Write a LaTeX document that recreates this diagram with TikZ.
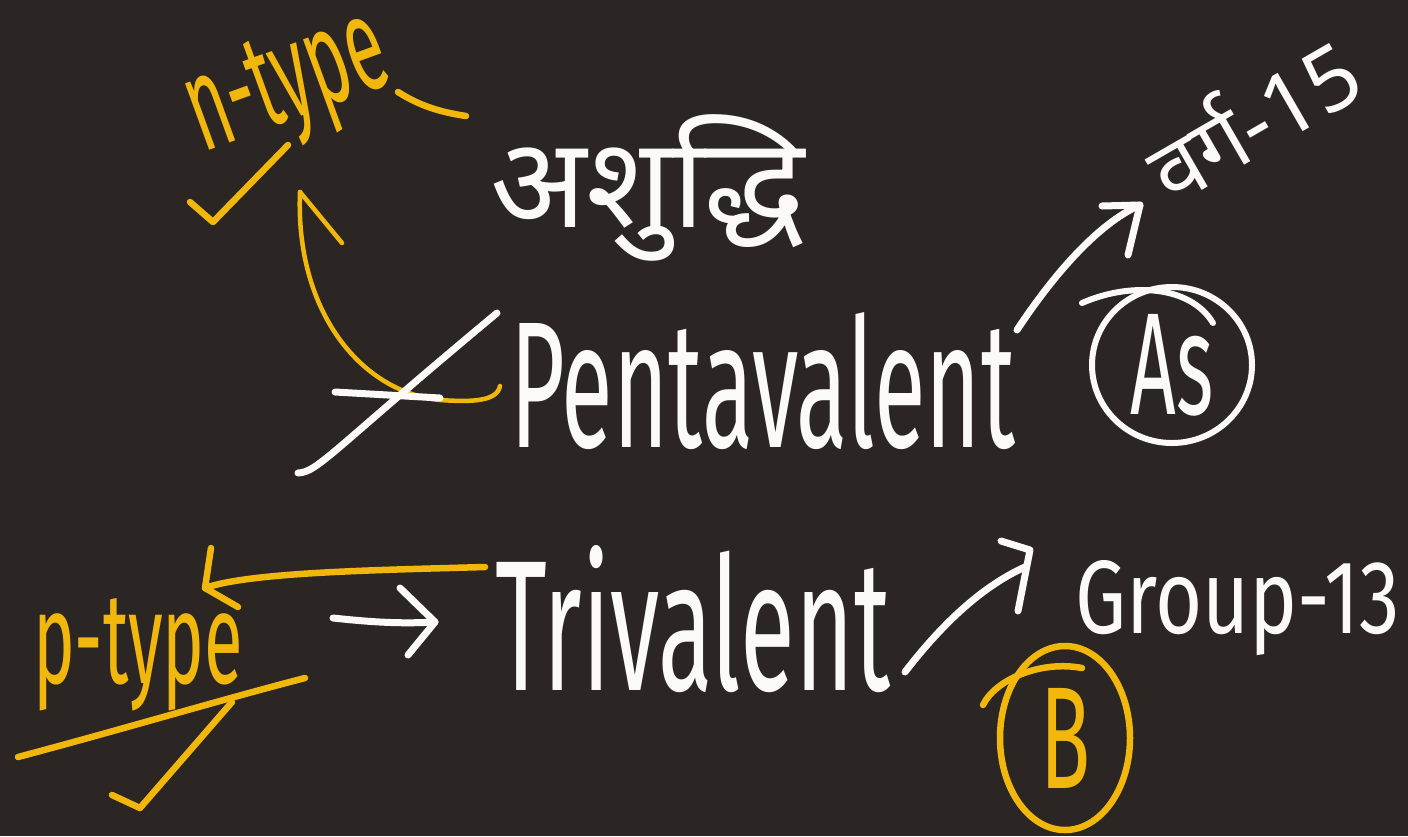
\documentclass[tikz,border=0pt]{standalone}
\usepackage{fontspec}
\setmainfont{Fira Sans}
\newfontfamily\devfont[Script=Devanagari]{Noto Sans}
\definecolor{bg}{HTML}{2B2624}
\definecolor{chalkyellow}{HTML}{F2B70C}
\definecolor{chalkwhite}{HTML}{FBFAF7}
\newcommand{\fitbox}[3]{\resizebox{#1}{#2}{#3}}
\begin{document}
\begin{tikzpicture}[x=1pt,y=-1pt,
  hand/.style={line width=7pt, line cap=round, line join=round},
  wstroke/.style={hand, draw=chalkwhite},
  ystroke/.style={hand, draw=chalkyellow, line width=6.5pt},
  txt/.style={inner sep=0pt, outer sep=0pt},
  wtxt/.style={txt, text=chalkwhite},
  ytxt/.style={txt, text=chalkyellow}]
\path[use as bounding box, fill=bg] (0,0) rectangle (1408,836);

% ---- text nodes ----
\node[ytxt, anchor=base west, rotate=20] (ntype) at (203,152) {\fitbox{205pt}{88pt}{n-type}};
\node[wtxt] (ashuddhi) at (648,188) {\resizebox{315pt}{!}{\devfont अशुद्धि}};
\node[wtxt, anchor=base west] (penta) at (510,447) {\fitbox{505pt}{135pt}{Pentavalent}};
\node[wtxt, anchor=base west, rotate=30] (varg) at (1172,207) {\resizebox{228pt}{!}{\devfont वर्ग-15}};
\node[wtxt] (as) at (1172,365) {\fitbox{83pt}{100pt}{As}};
\node[ytxt, anchor=base west] (ptype) at (33,683) {\fitbox{210pt}{85pt}{p-type}};
\node[wtxt, anchor=base west] (tri) at (495,690) {\fitbox{395pt}{145pt}{Trivalent}};
\node[wtxt, anchor=base west] (group) at (1075,633) {\fitbox{325pt}{73pt}{Group-13}};
\node[ytxt] (b) at (1065,738) {\fitbox{50pt}{100pt}{B}};

% ---- n-type decorations ----
\draw[ystroke] (398,92) .. controls (420,106) and (440,112) .. (466,116);
\draw[ystroke] (190,202) -- (213,222) -- (288,145);

% ---- Pentavalent -> n-type (yellow) ----
\coordinate (pentaL) at (500,386);
\coordinate (ntip) at (300,192);
\draw[ystroke, line width=4.5pt] (pentaL) .. controls (497,402) and (470,402) .. (440,400)
      .. controls (360,392) and (295,310) .. (ntip);
\draw[ystroke, line width=4.5pt] (ntip) -- (342,243);

% ---- white marks before Pentavalent ----
\draw[wstroke] (335,392) -- (440,398);
\draw[wstroke] (298,473) .. controls (318,472) and (330,452) .. (497,313);

% ---- Pentavalent -> varg-15 ----
\coordinate (pentaR) at (1017,330);
\coordinate (vtip) at (1140,205);
\draw[wstroke] (pentaR) .. controls (1050,280) and (1095,225) .. (vtip);
\draw[wstroke] (1102,206) -- (vtip) -- (1128,255);

% ---- As circle ----
\draw[wstroke, line width=6pt] (as) ellipse [x radius=80, y radius=78];
\draw[wstroke, line width=6pt] (1082,303) .. controls (1130,282) and (1190,285) .. (1213,323);

% ---- Trivalent -> p-type (yellow) ----
\coordinate (triL) at (485,567);
\coordinate (ptip) at (205,588);
\draw[ystroke] (triL) .. controls (380,570) and (250,572) .. (ptip);
\draw[ystroke] (211,548) -- (ptip) -- (238,607);

% ---- p-type decorations ----
\draw[ystroke] (18,757) .. controls (120,730) and (220,700) .. (305,678);
\draw[ystroke] (112,795) -- (140,808) -- (232,702);

% ---- p-type -> Trivalent ----
\coordinate (ptR) at (333,618);
\coordinate (ttip) at (435,622);
\draw[wstroke] (ptR) .. controls (370,622) and (400,624) .. (ttip);
\draw[wstroke] (400,588) -- (ttip) -- (408,655);

% ---- Trivalent -> Group-13 ----
\coordinate (triR) at (905,672);
\coordinate (gEnd) at (1025,567);
\draw[wstroke] (triR) .. controls (945,620) and (985,585) .. (gEnd);
\draw[wstroke] (1001,541) -- (1030,550) -- (1018,611);

% ---- B circle ----
\draw[ystroke] (b) ellipse [x radius=65, y radius=92];
\draw[ystroke] (983,705) .. controls (995,680) and (1040,660) .. (1082,668);
\end{tikzpicture}
\end{document}
